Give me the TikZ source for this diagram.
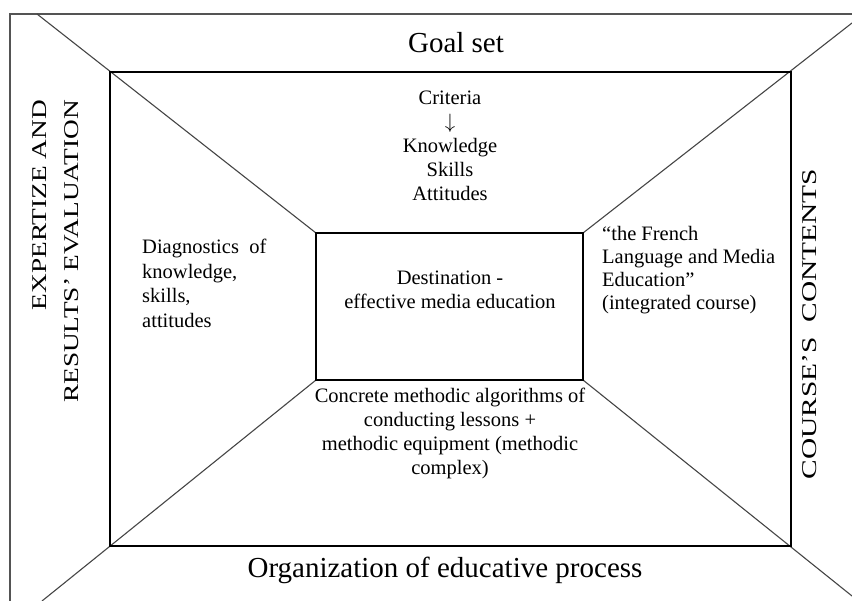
\documentclass[tikz,border=0pt]{standalone}
\usepackage{fontspec}
\setmainfont{Liberation Serif}
\usetikzlibrary{positioning}
\definecolor{framegray}{rgb}{0.33,0.33,0.33}
\definecolor{diaggray}{rgb}{0.27,0.27,0.27}
\newcommand{\widecaps}[2]{\scalebox{#1}[1]{#2}}

\begin{document}
\begin{tikzpicture}[x=1pt, y=-1pt,
    title/.style={inner sep=0pt, font=\fontsize{29}{34}\selectfont},
    body/.style={inner sep=0pt, font=\fontsize{20.5}{24}\selectfont},
    side/.style={inner sep=0pt, rotate=90, font=\fontsize{21}{32}\selectfont},
    frame/.style={draw=black, line width=1.4pt},
    outer/.style={draw=framegray, line width=2pt},
    diag/.style={draw=diaggray, line width=1.1pt}
]
\useasboundingbox (0,0) rectangle (852,601);

% corners
\coordinate (oTL) at (37,14);
\coordinate (oTR) at (852,23);
\coordinate (oBR) at (852,596);
\coordinate (oBL) at (42,601);
\coordinate (mTL) at (110,72);
\coordinate (mBR) at (791,546);
\coordinate (iTL) at (316,233);
\coordinate (iTR) at (583,233);
\coordinate (iBR) at (583,380);
\coordinate (iBL) at (316,380);
\coordinate (edgeR) at (852,14);
\coordinate (edgeTL) at (10,14);
\coordinate (edgeB) at (10,601);

\draw[outer] (edgeR) -- (edgeTL) -- (edgeB);
\draw[diag] (oTL) -- (iTL);
\draw[diag] (oTR) -- (iTR);
\draw[diag] (oBR) -- (iBR);
\draw[diag] (oBL) -- (iBL);
\draw[frame] (mTL) rectangle (mBR);
\draw[frame] (iTL) rectangle (iBR);

\node[title, anchor=base] (goal) at (456,53) {Goal set};
\node[title, anchor=base] (organization) at (445,577) {Organization of educative process};

\node[side, align=right, anchor=east] (expertize) at (56,100)
    {\widecaps{1.3}{EXPERTIZE AND}\\\widecaps{1.3}{RESULTS’ EVALUATION}};
\node[side] (contents) at (810,324) {\widecaps{1.4}{COURSE’S\ \ CONTENTS}};

\node[body, align=center, anchor=north] (criteria) at (450,91)
    {Criteria\\$\downarrow$\\Knowledge\\Skills\\Attitudes};
\node[body, align=center, anchor=north] (destination) at (450,271)
    {Destination -\\effective media education};
\node[body, align=center, anchor=north] (methodic) at (450,388)
    {Concrete methodic algorithms of\\conducting lessons +\\methodic equipment (methodic\\complex)};
\node[body, align=left, anchor=north west, font=\fontsize{20.5}{24.5}\selectfont] (diagnostics) at (142,239)
    {Diagnostics\ \ of\\knowledge,\\skills,\\attitudes};
\node[body, align=left, anchor=north west, font=\fontsize{20.5}{23}\selectfont] (course) at (602,226)
    {“the French\\Language and Media\\Education”\\(integrated course)};

\end{tikzpicture}
\end{document}
